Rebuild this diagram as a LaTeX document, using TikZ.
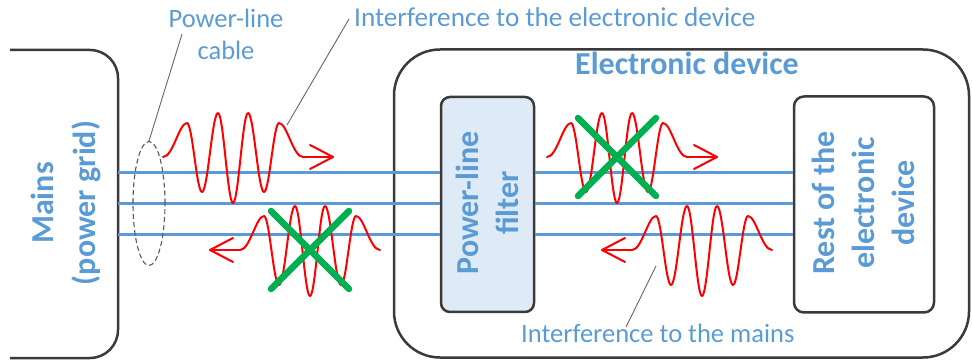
\documentclass[tikz,border=0pt]{standalone}
\usepackage{fontspec}
\setmainfont{Carlito}
\usetikzlibrary{calc,shapes.geometric}
\definecolor{txtblue}{HTML}{5B9BD5}
\definecolor{fillblue}{HTML}{DEEBF7}
\definecolor{boxgray}{HTML}{3A3A3A}
\definecolor{xgreen}{HTML}{00B050}
\tikzset{
  boxline/.style={draw=boxgray, line width=2.5pt},
  cable/.style={draw=txtblue, line width=3pt},
  leader/.style={draw=black!60, line width=0.9pt},
  wavered/.style={draw=red, line width=2pt, line join=round, line cap=round},
  crossline/.style={draw=xgreen, line width=6.5pt, line cap=round},
  boxlabel/.style={text=txtblue, font=\fontsize{32}{40}\selectfont\bfseries, align=center, inner sep=0pt, rotate=90},
  note/.style={text=txtblue, font=\fontsize{26.5}{32}\selectfont, inner sep=0pt},
  wave/.pic={
    \draw[wavered] (-70,0) .. controls (-60,0) and (-54,-34) .. (-46,-34)
      .. controls (-40.6,-34) and (-36.4,35) .. (-31,35)
      .. controls (-25.2,35) and (-20.8,-44) .. (-15,-44)
      .. controls (-9.6,-44) and (-5.4,46) .. (0,46)
      .. controls (5.4,46) and (9.6,-44) .. (15,-44)
      .. controls (20.8,-44) and (25.2,35) .. (31,35)
      .. controls (36.4,35) and (40.6,-34) .. (46,-34)
      .. controls (54,-34) and (60,0) .. (70,0);
  },
  goright/.pic={
    \draw[wavered] (70,0) -- (100,0);
    \draw[wavered] (77,-12) -- (100,0) -- (77,12);
  },
  goleft/.pic={
    \draw[wavered] (-70,0) -- (-100,0);
    \draw[wavered] (-77,-12) -- (-100,0) -- (-77,12);
  }
}
\begin{document}
\begin{tikzpicture}[x=1pt,y=-1pt]
\useasboundingbox (0,0) rectangle (972,363);

% outer boxes
\draw[boxline, rounded corners=28pt] (10,50) -- (118,50) -- (118,358) -- (10,358);
\node[boxline, rounded corners=46pt, minimum width=575pt, minimum height=308pt, inner sep=0pt] (device) at (681.5,203.5) {};

% cable lines
\coordinate (c1) at (118,173);
\coordinate (c2) at (118,204);
\coordinate (c3) at (118,235);
\node[boxline, fill=fillblue, rounded corners=9pt, minimum width=93pt, minimum height=215pt, inner sep=0pt] (filter) at (487.5,204.5) {};
\node[boxline, fill=white, rounded corners=10pt, minimum width=140pt, minimum height=216pt, inner sep=0pt] (rest) at (864,204.5) {};
\draw[cable] (c1) -- (c1 -| filter.west);
\draw[cable] (c2) -- (c2 -| filter.west);
\draw[cable] (c3) -- (c3 -| filter.west);
\draw[cable] (c1 -| filter.east) -- (c1 -| rest.west);
\draw[cable] (c2 -| filter.east) -- (c2 -| rest.west);
\draw[cable] (c3 -| filter.east) -- (c3 -| rest.west);

% box labels
\node[boxlabel, font=\fontsize{32}{42}\selectfont\bfseries] (mainslab) at (66,203) {Mains\\(power grid)};
\node[boxlabel] (filterlab) at (487.5,203) {Power-line\\filter};
\node[boxlabel] (restlab) at (863,203) {Rest of the\\electronic\\device};
\node[text=txtblue, font=\fontsize{32}{40}\selectfont\bfseries, inner sep=0pt, anchor=base] (devlab) at (687,75) {Electronic device};

% cable bundle
\node[draw=black!65, dash pattern=on 5pt off 3pt, line width=1.1pt, ellipse, minimum width=32pt, minimum height=124pt, inner sep=0pt] (bundle) at (149,203.5) {};

% waves
\pic at (233,157) {wave};
\pic at (233,157) {goright};
\pic at (617,157) {wave};
\pic at (617,157) {goright};
\pic at (310,250) {wave};
\pic at (310,250) {goleft};
\pic at (702,250) {wave};
\pic at (702,250) {goleft};

% crosses
\draw[crossline] (271,211) -- (349,289);
\draw[crossline] (271,289) -- (349,211);
\draw[crossline] (578,118) -- (656,196);
\draw[crossline] (578,196) -- (656,118);

% labels
\node[note, align=center] (cablelab) at (226,34) {Power-line\\cable};
\node[note, font=\fontsize{27.2}{32}\selectfont, anchor=base west] (devint) at (354,27) {Interference to the electronic device};
\node[note, anchor=base west] (mainsint) at (521,343) {Interference to the mains};

% leaders
\coordinate (cableend) at (182,34);
\coordinate (w1pt) at (287,125);
\coordinate (devintend) at (349,19);
\coordinate (w4pt) at (656,266);
\coordinate (mainsintend) at (626,327);
\draw[leader] (bundle.north) -- (cableend);
\draw[leader] (w1pt) -- (devintend);
\draw[leader] (w4pt) -- (mainsintend);
\end{tikzpicture}
\end{document}
